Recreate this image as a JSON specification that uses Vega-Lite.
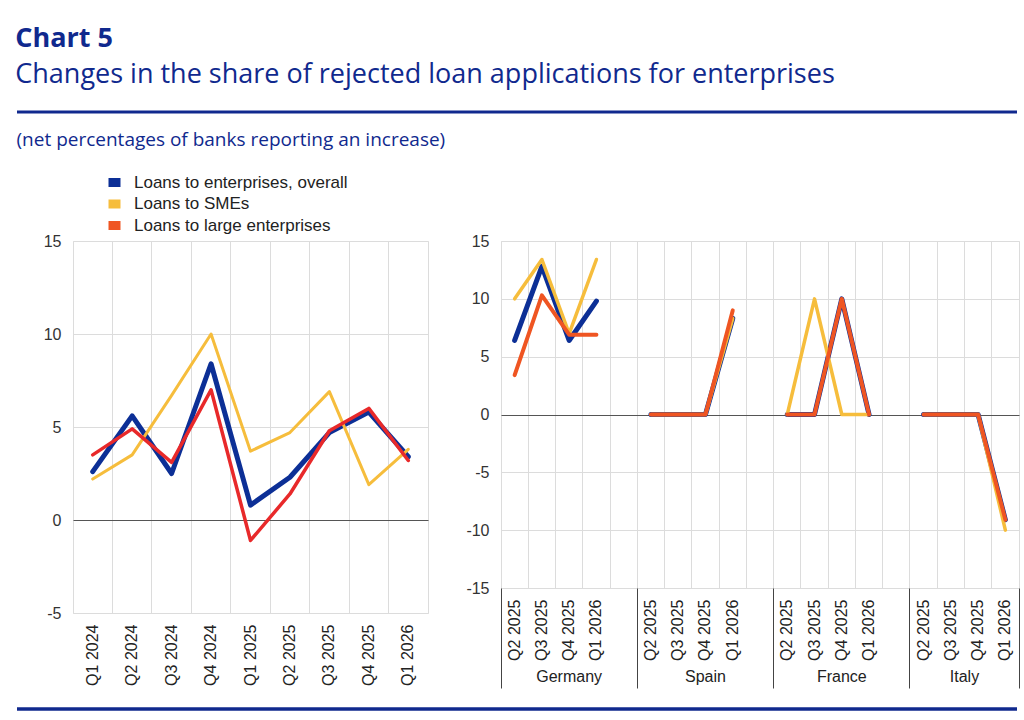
{
  "$schema": "https://vega.github.io/schema/vega-lite/v6.json",
  "background": "white",
  "padding": {"left": 15, "top": 24, "right": 9, "bottom": 6},
  "title": {
    "text": "Chart 5",
    "subtitle": "Changes in the share of rejected loan applications for enterprises",
    "anchor": "start",
    "font": "Open Sans",
    "fontSize": 27,
    "fontWeight": "bold",
    "color": "#10298e",
    "subtitleFont": "Open Sans",
    "subtitleFontSize": 27,
    "subtitleFontWeight": "normal",
    "subtitleColor": "#10298e",
    "subtitlePadding": 9,
    "offset": 22
  },
  "datasets": {
    "euro": [
      {"quarter": "Q1 2024", "series": "Loans to enterprises, overall", "value": 2.6},
      {"quarter": "Q2 2024", "series": "Loans to enterprises, overall", "value": 5.6},
      {"quarter": "Q3 2024", "series": "Loans to enterprises, overall", "value": 2.5},
      {"quarter": "Q4 2024", "series": "Loans to enterprises, overall", "value": 8.4},
      {"quarter": "Q1 2025", "series": "Loans to enterprises, overall", "value": 0.8},
      {"quarter": "Q2 2025", "series": "Loans to enterprises, overall", "value": 2.3},
      {"quarter": "Q3 2025", "series": "Loans to enterprises, overall", "value": 4.7},
      {"quarter": "Q4 2025", "series": "Loans to enterprises, overall", "value": 5.8},
      {"quarter": "Q1 2026", "series": "Loans to enterprises, overall", "value": 3.4},
      {"quarter": "Q1 2024", "series": "Loans to SMEs", "value": 2.2},
      {"quarter": "Q2 2024", "series": "Loans to SMEs", "value": 3.5},
      {"quarter": "Q3 2024", "series": "Loans to SMEs", "value": 6.7},
      {"quarter": "Q4 2024", "series": "Loans to SMEs", "value": 10.0},
      {"quarter": "Q1 2025", "series": "Loans to SMEs", "value": 3.7},
      {"quarter": "Q2 2025", "series": "Loans to SMEs", "value": 4.7},
      {"quarter": "Q3 2025", "series": "Loans to SMEs", "value": 6.9},
      {"quarter": "Q4 2025", "series": "Loans to SMEs", "value": 1.9},
      {"quarter": "Q1 2026", "series": "Loans to SMEs", "value": 3.8},
      {"quarter": "Q1 2024", "series": "Loans to large enterprises", "value": 3.5},
      {"quarter": "Q2 2024", "series": "Loans to large enterprises", "value": 4.9},
      {"quarter": "Q3 2024", "series": "Loans to large enterprises", "value": 3.1},
      {"quarter": "Q4 2024", "series": "Loans to large enterprises", "value": 7.0},
      {"quarter": "Q1 2025", "series": "Loans to large enterprises", "value": -1.1},
      {"quarter": "Q2 2025", "series": "Loans to large enterprises", "value": 1.4},
      {"quarter": "Q3 2025", "series": "Loans to large enterprises", "value": 4.8},
      {"quarter": "Q4 2025", "series": "Loans to large enterprises", "value": 6.0},
      {"quarter": "Q1 2026", "series": "Loans to large enterprises", "value": 3.2}
    ],
    "countries": [
      {"country": "Germany", "slot": "Q2 2025|DE", "series": "Loans to enterprises, overall", "value": 6.4},
      {"country": "Germany", "slot": "Q3 2025|DE", "series": "Loans to enterprises, overall", "value": 12.8},
      {"country": "Germany", "slot": "Q4 2025|DE", "series": "Loans to enterprises, overall", "value": 6.4},
      {"country": "Germany", "slot": "Q1 2026|DE", "series": "Loans to enterprises, overall", "value": 9.8},
      {"country": "Spain", "slot": "Q2 2025|ES", "series": "Loans to enterprises, overall", "value": 0},
      {"country": "Spain", "slot": "Q3 2025|ES", "series": "Loans to enterprises, overall", "value": 0},
      {"country": "Spain", "slot": "Q4 2025|ES", "series": "Loans to enterprises, overall", "value": 0},
      {"country": "Spain", "slot": "Q1 2026|ES", "series": "Loans to enterprises, overall", "value": 8.3},
      {"country": "France", "slot": "Q2 2025|FR", "series": "Loans to enterprises, overall", "value": 0},
      {"country": "France", "slot": "Q3 2025|FR", "series": "Loans to enterprises, overall", "value": 0},
      {"country": "France", "slot": "Q4 2025|FR", "series": "Loans to enterprises, overall", "value": 10.0},
      {"country": "France", "slot": "Q1 2026|FR", "series": "Loans to enterprises, overall", "value": 0},
      {"country": "Italy", "slot": "Q2 2025|IT", "series": "Loans to enterprises, overall", "value": 0},
      {"country": "Italy", "slot": "Q3 2025|IT", "series": "Loans to enterprises, overall", "value": 0},
      {"country": "Italy", "slot": "Q4 2025|IT", "series": "Loans to enterprises, overall", "value": 0},
      {"country": "Italy", "slot": "Q1 2026|IT", "series": "Loans to enterprises, overall", "value": -9.1},
      {"country": "Germany", "slot": "Q2 2025|DE", "series": "Loans to SMEs", "value": 10.0},
      {"country": "Germany", "slot": "Q3 2025|DE", "series": "Loans to SMEs", "value": 13.4},
      {"country": "Germany", "slot": "Q4 2025|DE", "series": "Loans to SMEs", "value": 7.0},
      {"country": "Germany", "slot": "Q1 2026|DE", "series": "Loans to SMEs", "value": 13.4},
      {"country": "Spain", "slot": "Q2 2025|ES", "series": "Loans to SMEs", "value": 0},
      {"country": "Spain", "slot": "Q3 2025|ES", "series": "Loans to SMEs", "value": 0},
      {"country": "Spain", "slot": "Q4 2025|ES", "series": "Loans to SMEs", "value": 0},
      {"country": "Spain", "slot": "Q1 2026|ES", "series": "Loans to SMEs", "value": 8.3},
      {"country": "France", "slot": "Q2 2025|FR", "series": "Loans to SMEs", "value": 0},
      {"country": "France", "slot": "Q3 2025|FR", "series": "Loans to SMEs", "value": 10.0},
      {"country": "France", "slot": "Q4 2025|FR", "series": "Loans to SMEs", "value": 0},
      {"country": "France", "slot": "Q1 2026|FR", "series": "Loans to SMEs", "value": 0},
      {"country": "Italy", "slot": "Q2 2025|IT", "series": "Loans to SMEs", "value": 0},
      {"country": "Italy", "slot": "Q3 2025|IT", "series": "Loans to SMEs", "value": 0},
      {"country": "Italy", "slot": "Q4 2025|IT", "series": "Loans to SMEs", "value": 0},
      {"country": "Italy", "slot": "Q1 2026|IT", "series": "Loans to SMEs", "value": -10.0},
      {"country": "Germany", "slot": "Q2 2025|DE", "series": "Loans to large enterprises", "value": 3.4},
      {"country": "Germany", "slot": "Q3 2025|DE", "series": "Loans to large enterprises", "value": 10.3},
      {"country": "Germany", "slot": "Q4 2025|DE", "series": "Loans to large enterprises", "value": 6.9},
      {"country": "Germany", "slot": "Q1 2026|DE", "series": "Loans to large enterprises", "value": 6.9},
      {"country": "Spain", "slot": "Q2 2025|ES", "series": "Loans to large enterprises", "value": 0},
      {"country": "Spain", "slot": "Q3 2025|ES", "series": "Loans to large enterprises", "value": 0},
      {"country": "Spain", "slot": "Q4 2025|ES", "series": "Loans to large enterprises", "value": 0},
      {"country": "Spain", "slot": "Q1 2026|ES", "series": "Loans to large enterprises", "value": 9.0},
      {"country": "France", "slot": "Q2 2025|FR", "series": "Loans to large enterprises", "value": 0},
      {"country": "France", "slot": "Q3 2025|FR", "series": "Loans to large enterprises", "value": 0},
      {"country": "France", "slot": "Q4 2025|FR", "series": "Loans to large enterprises", "value": 10.0},
      {"country": "France", "slot": "Q1 2026|FR", "series": "Loans to large enterprises", "value": 0},
      {"country": "Italy", "slot": "Q2 2025|IT", "series": "Loans to large enterprises", "value": 0},
      {"country": "Italy", "slot": "Q3 2025|IT", "series": "Loans to large enterprises", "value": 0},
      {"country": "Italy", "slot": "Q4 2025|IT", "series": "Loans to large enterprises", "value": 0},
      {"country": "Italy", "slot": "Q1 2026|IT", "series": "Loans to large enterprises", "value": -9.1}
    ]
  },
  "config": {
    "view": {"stroke": "#dcdcdc"},
    "axis": {
      "labelFont": "Liberation Sans",
      "labelFontSize": 16,
      "labelColor": "#222222",
      "gridColor": "#dcdcdc",
      "gridWidth": 1,
      "domain": false,
      "ticks": false,
      "title": null
    }
  },
  "vconcat": [
    {
      "width": 944,
      "height": 2,
      "view": {"stroke": null},
      "data": {"values": [{"k": 1}]},
      "mark": {"type": "rule", "color": "#10298e", "strokeWidth": 3},
      "encoding": {
        "x": {"value": -56},
        "x2": {"value": "width"},
        "y": {"value": 1}
      }
    },
    {
      "title": {
        "text": "(net percentages of banks reporting an increase)",
        "anchor": "start",
        "offset": 24,
        "font": "Open Sans",
        "fontSize": 19,
        "fontWeight": "normal",
        "color": "#10298e"
      },
      "hconcat": [
        {
          "width": 355,
          "height": 372,
          "data": {"name": "euro"},
          "encoding": {
            "x": {
              "field": "quarter",
              "type": "nominal",
              "bandPosition": 0.5,
              "scale": {
                "type": "band",
                "domain": ["Q1 2024", "Q2 2024", "Q3 2024", "Q4 2024", "Q1 2025", "Q2 2025", "Q3 2025", "Q4 2025", "Q1 2026"],
                "paddingInner": 0,
                "paddingOuter": 0
              },
              "axis": {
                "labelAngle": -90,
                "labelPadding": 11,
                "grid": true,
                "bandPosition": 0,
                "ticks": false,
                "domain": false
              }
            },
            "y": {
              "field": "value",
              "type": "quantitative",
              "scale": {"domain": [-5, 15], "nice": false, "zero": false},
              "axis": {
                "values": [-5, 0, 5, 10, 15],
                "labelExpr": "'' + datum.value",
                "labelPadding": 12,
                "labelColor": "#333333",
                "minExtent": 56,
                "grid": true,
                "gridColor": {"condition": {"test": "datum.value === 0", "value": "#555555"}, "value": "#dcdcdc"}
              }
            },
            "color": {
              "field": "series",
              "type": "nominal",
              "scale": {
                "domain": ["Loans to enterprises, overall", "Loans to SMEs", "Loans to large enterprises"],
                "range": ["#0c2f96", "#f6bd3c", "#e8292a"]
              },
              "legend": {
                "orient": "none",
                "legendX": 33,
                "legendY": -67,
                "title": null,
                "direction": "vertical",
                "padding": 0,
                "symbolType": "M-1,-0.75H1V0.75H-1Z",
                "symbolSize": 144,
                "symbolStrokeWidth": 0,
                "labelFont": "Liberation Sans",
                "labelFontSize": 17,
                "labelColor": "#222222",
                "labelOffset": 11,
                "labelLimit": 400,
                "rowPadding": 3.5,
                "encode": {
                  "symbols": {
                    "update": {
                      "fill": {"signal": "datum.value === 'Loans to enterprises, overall' ? '#0c2f96' : datum.value === 'Loans to SMEs' ? '#f6bd3c' : '#ef5522'"},
                      "stroke": {"value": "transparent"},
                      "opacity": {"value": 1}
                    }
                  }
                }
              }
            }
          },
          "layer": [
            {
              "transform": [{"filter": {"field": "series", "equal": "Loans to enterprises, overall"}}],
              "mark": {"type": "line", "strokeWidth": 5, "strokeCap": "round", "strokeJoin": "round"}
            },
            {
              "transform": [{"filter": {"field": "series", "equal": "Loans to SMEs"}}],
              "mark": {"type": "line", "strokeWidth": 3, "strokeCap": "round", "strokeJoin": "round"}
            },
            {
              "transform": [{"filter": {"field": "series", "equal": "Loans to large enterprises"}}],
              "mark": {"type": "line", "strokeWidth": 3.5, "strokeCap": "round", "strokeJoin": "round"}
            }
          ]
        },
        {
          "width": 518,
          "height": 347,
          "data": {"name": "countries"},
          "encoding": {
            "y": {
              "field": "value",
              "type": "quantitative",
              "scale": {"domain": [-15, 15], "nice": false, "zero": false},
              "axis": {
                "values": [-15, -10, -5, 0, 5, 10, 15],
                "labelExpr": "'' + datum.value",
                "labelPadding": 12,
                "labelColor": "#333333",
                "minExtent": 40,
                "grid": true,
                "gridColor": {"condition": {"test": "datum.value === 0", "value": "#555555"}, "value": "#dcdcdc"}
              }
            },
            "color": {
              "field": "series",
              "type": "nominal",
              "scale": {
                "domain": ["Loans to enterprises, overall", "Loans to SMEs", "Loans to large enterprises"],
                "range": ["#0c2f96", "#f6bd3c", "#ef5522"]
              },
              "legend": null
            },
            "detail": {"field": "country", "type": "nominal"}
          },
          "layer": [
            {
              "transform": [{"filter": {"field": "series", "equal": "Loans to enterprises, overall"}}],
              "mark": {"type": "line", "strokeWidth": 5, "strokeCap": "round", "strokeJoin": "round"},
              "encoding": {
                "x": {
                  "field": "slot",
                  "type": "nominal",
                  "bandPosition": 0.5,
                  "scale": {
                    "type": "band",
                    "domain": ["Q2 2025|DE", "Q3 2025|DE", "Q4 2025|DE", "Q1 2026|DE", "gap1", "Q2 2025|ES", "Q3 2025|ES", "Q4 2025|ES", "Q1 2026|ES", "gap2", "Q2 2025|FR", "Q3 2025|FR", "Q4 2025|FR", "Q1 2026|FR", "gap3", "Q2 2025|IT", "Q3 2025|IT", "Q4 2025|IT", "Q1 2026|IT"],
                    "paddingInner": 0,
                    "paddingOuter": 0
                  },
                  "axis": {
                    "orient": "bottom",
                    "labelAngle": -90,
                    "labelPadding": 11,
                    "labelExpr": "indexof(datum.value, '|') < 0 ? '' : split(datum.value, '|')[0]",
                    "grid": true,
                    "bandPosition": 0,
                    "ticks": false,
                    "domain": false
                  }
                }
              }
            },
            {
              "transform": [{"filter": {"field": "series", "equal": "Loans to SMEs"}}],
              "mark": {"type": "line", "strokeWidth": 3.5, "strokeCap": "round", "strokeJoin": "round"},
              "encoding": {
                "x": {
                  "field": "slot",
                  "type": "nominal",
                  "bandPosition": 0.5,
                  "scale": {
                    "type": "band",
                    "domain": ["Q2 2025|DE", "Q3 2025|DE", "Q4 2025|DE", "Q1 2026|DE", "gap1", "Q2 2025|ES", "Q3 2025|ES", "Q4 2025|ES", "Q1 2026|ES", "gap2", "Q2 2025|FR", "Q3 2025|FR", "Q4 2025|FR", "Q1 2026|FR", "gap3", "Q2 2025|IT", "Q3 2025|IT", "Q4 2025|IT", "Q1 2026|IT"],
                    "paddingInner": 0,
                    "paddingOuter": 0
                  },
                  "axis": null
                }
              }
            },
            {
              "transform": [{"filter": {"field": "series", "equal": "Loans to large enterprises"}}],
              "mark": {"type": "line", "strokeWidth": 4, "strokeCap": "round", "strokeJoin": "round"},
              "encoding": {
                "x": {
                  "field": "slot",
                  "type": "nominal",
                  "bandPosition": 0.5,
                  "scale": {
                    "type": "band",
                    "domain": ["Q2 2025|DE", "Q3 2025|DE", "Q4 2025|DE", "Q1 2026|DE", "gap1", "Q2 2025|ES", "Q3 2025|ES", "Q4 2025|ES", "Q1 2026|ES", "gap2", "Q2 2025|FR", "Q3 2025|FR", "Q4 2025|FR", "Q1 2026|FR", "gap3", "Q2 2025|IT", "Q3 2025|IT", "Q4 2025|IT", "Q1 2026|IT"],
                    "paddingInner": 0,
                    "paddingOuter": 0
                  },
                  "axis": null
                }
              }
            },
            {
              "mark": {"type": "point", "opacity": 0},
              "encoding": {
                "x": {
                  "field": "slot",
                  "type": "nominal",
                  "bandPosition": 0.5,
                  "scale": {
                    "type": "band",
                    "domain": ["Q2 2025|DE", "Q3 2025|DE", "Q4 2025|DE", "Q1 2026|DE", "gap1", "Q2 2025|ES", "Q3 2025|ES", "Q4 2025|ES", "Q1 2026|ES", "gap2", "Q2 2025|FR", "Q3 2025|FR", "Q4 2025|FR", "Q1 2026|FR", "gap3", "Q2 2025|IT", "Q3 2025|IT", "Q4 2025|IT", "Q1 2026|IT"],
                    "paddingInner": 0,
                    "paddingOuter": 0
                  },
                  "axis": {
                    "orient": "bottom",
                    "values": ["Q2 2025|DE", "Q2 2025|ES", "Q2 2025|FR", "Q2 2025|IT"],
                    "bandPosition": 0,
                    "ticks": true,
                    "tickSize": 100,
                    "tickColor": "#444444",
                    "tickWidth": 1,
                    "labels": false,
                    "grid": false,
                    "domain": false
                  }
                }
              }
            },
            {
              "mark": {"type": "point", "opacity": 0},
              "encoding": {
                "x": {
                  "field": "slot",
                  "type": "nominal",
                  "bandPosition": 0.5,
                  "scale": {
                    "type": "band",
                    "domain": ["Q2 2025|DE", "Q3 2025|DE", "Q4 2025|DE", "Q1 2026|DE", "gap1", "Q2 2025|ES", "Q3 2025|ES", "Q4 2025|ES", "Q1 2026|ES", "gap2", "Q2 2025|FR", "Q3 2025|FR", "Q4 2025|FR", "Q1 2026|FR", "gap3", "Q2 2025|IT", "Q3 2025|IT", "Q4 2025|IT", "Q1 2026|IT"],
                    "paddingInner": 0,
                    "paddingOuter": 0
                  },
                  "axis": {
                    "orient": "bottom",
                    "values": ["Q1 2026|IT"],
                    "bandPosition": 1,
                    "ticks": true,
                    "tickSize": 100,
                    "tickColor": "#444444",
                    "tickWidth": 1,
                    "labels": false,
                    "grid": false,
                    "domain": false
                  }
                }
              }
            },
            {
              "mark": {"type": "point", "opacity": 0},
              "encoding": {
                "x": {
                  "field": "slot",
                  "type": "nominal",
                  "bandPosition": 0.5,
                  "scale": {
                    "type": "band",
                    "domain": ["Q2 2025|DE", "Q3 2025|DE", "Q4 2025|DE", "Q1 2026|DE", "gap1", "Q2 2025|ES", "Q3 2025|ES", "Q4 2025|ES", "Q1 2026|ES", "gap2", "Q2 2025|FR", "Q3 2025|FR", "Q4 2025|FR", "Q1 2026|FR", "gap3", "Q2 2025|IT", "Q3 2025|IT", "Q4 2025|IT", "Q1 2026|IT"],
                    "paddingInner": 0,
                    "paddingOuter": 0
                  },
                  "axis": {
                    "orient": "bottom",
                    "values": ["Q4 2025|DE", "Q4 2025|ES", "Q4 2025|FR"],
                    "labelExpr": "indexof(datum.value, 'DE') >= 0 ? 'Germany' : indexof(datum.value, 'ES') >= 0 ? 'Spain' : 'France'",
                    "labelAngle": 0,
                    "labelPadding": 80,
                    "ticks": false,
                    "grid": false,
                    "domain": false
                  }
                }
              }
            },
            {
              "mark": {"type": "point", "opacity": 0},
              "encoding": {
                "x": {
                  "field": "slot",
                  "type": "nominal",
                  "bandPosition": 0.5,
                  "scale": {
                    "type": "band",
                    "domain": ["Q2 2025|DE", "Q3 2025|DE", "Q4 2025|DE", "Q1 2026|DE", "gap1", "Q2 2025|ES", "Q3 2025|ES", "Q4 2025|ES", "Q1 2026|ES", "gap2", "Q2 2025|FR", "Q3 2025|FR", "Q4 2025|FR", "Q1 2026|FR", "gap3", "Q2 2025|IT", "Q3 2025|IT", "Q4 2025|IT", "Q1 2026|IT"],
                    "paddingInner": 0,
                    "paddingOuter": 0
                  },
                  "axis": {
                    "orient": "bottom",
                    "values": ["Q4 2025|IT"],
                    "labelExpr": "'Italy'",
                    "labelAngle": 0,
                    "labelPadding": 80,
                    "labelOffset": -13.6,
                    "ticks": false,
                    "grid": false,
                    "domain": false
                  }
                }
              }
            }
          ],
          "resolve": {"axis": {"x": "independent"}}
        }
      ],
      "spacing": 31,
      "resolve": {"scale": {"color": "independent"}}
    },
    {
      "width": 944,
      "height": 6,
      "view": {"stroke": null},
      "data": {"values": [{"k": 1}]},
      "mark": {"type": "rule", "color": "#10298e", "strokeWidth": 3.5},
      "encoding": {
        "x": {"value": -56},
        "x2": {"value": "width"},
        "y": {"value": 4}
      }
    }
  ],
  "spacing": 16
}
